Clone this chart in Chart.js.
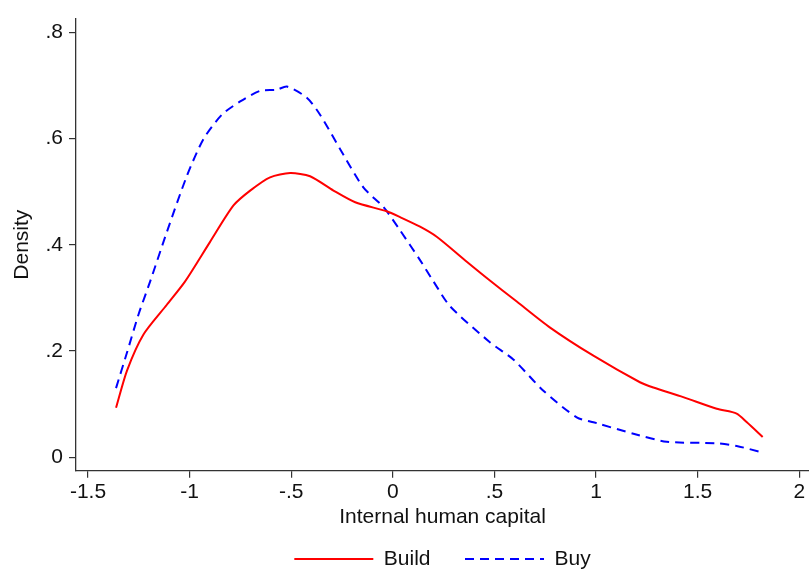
<!DOCTYPE html>
<html>
<head>
<meta charset="utf-8">
<script src="https://cdn.jsdelivr.net/npm/chart.js@4/dist/chart.umd.min.js"></script>
<style>
  html,body{margin:0;padding:0;background:#fff;}
  #wrap{width:809px;height:572px;}
</style>
</head>
<body>
<div id="wrap"><canvas id="chart" width="809" height="572"></canvas></div>
<script>
// DATA
const buildX=[-1.362,-1.308,-1.227,-1.112,-1.022,-0.900,-0.784,-0.702,-0.604,-0.505,-0.407,-0.292,-0.185,-0.030,0.036,0.134,0.216,0.364,0.470,0.610,0.774,0.987,1.216,1.282,1.429,1.594,1.692,1.741,1.820];
const buildY=[0.093,0.163,0.231,0.287,0.331,0.405,0.474,0.502,0.527,0.535,0.529,0.502,0.480,0.463,0.452,0.434,0.415,0.368,0.335,0.293,0.244,0.191,0.141,0.131,0.113,0.091,0.082,0.066,0.038];
const buyX=[-1.362,-1.308,-1.251,-1.194,-1.112,-1.013,-0.932,-0.841,-0.751,-0.653,-0.571,-0.521,-0.423,-0.358,-0.259,-0.145,-0.046,0.036,0.134,0.200,0.282,0.479,0.593,0.741,0.905,1.003,1.184,1.348,1.594,1.692,1.807];
const buyY=[0.130,0.197,0.269,0.331,0.424,0.530,0.599,0.645,0.670,0.690,0.692,0.698,0.677,0.645,0.580,0.508,0.471,0.427,0.371,0.331,0.284,0.216,0.184,0.125,0.075,0.064,0.044,0.029,0.026,0.021,0.010];
const xTicks=[-1.5,-1,-0.5,0,0.5,1,1.5,2];
const yTicks=[0,0.2,0.4,0.6,0.8];

const FONT="'Liberation Sans', Arial, sans-serif";
const AXIS="#333";
const pts=(xs,ys)=>xs.map((x,i)=>({x,y:ys[i]}));
// stata style labels: .5, -.5
const fmt=v=>v===0?"0":String(v).replace("0.",".");

// legend: keep the line style of each series
function legendLabels(chart){
  const items=Chart.defaults.plugins.legend.labels.generateLabels(chart);
  items.forEach(it=>{
    const ds=chart.data.datasets[it.datasetIndex];
    it.lineDash=ds.borderDash||[];
    it.strokeStyle=ds.borderColor;
    it.lineWidth=2;
  });
  return items;
}

new Chart(document.getElementById("chart"),{
  type:"scatter",
  data:{
    datasets:[
      {label:"Build",data:pts(buildX,buildY),showLine:true,borderColor:"#ff0000",backgroundColor:"#ff0000",
       borderWidth:2,pointRadius:0,tension:0.25},
      {label:"Buy",data:pts(buyX,buyY),showLine:true,borderColor:"#0000ff",backgroundColor:"#0000ff",
       borderWidth:2,borderDash:[9,6],pointRadius:0,tension:0.25}
    ]
  },
  options:{
    responsive:false,animation:false,
    layout:{padding:{top:15,right:0,bottom:0,left:0}},
    plugins:{
      tooltip:{enabled:false},
      legend:{
        position:"bottom",fullSize:false,maxHeight:58,
        labels:{usePointStyle:true,pointStyle:"line",pointStyleWidth:79,padding:34.5,
          generateLabels:legendLabels,
          color:"#111",font:{family:FONT,size:21}}
      }
    },
    scales:{
      x:{
        type:"linear",min:-1.559,max:2.048,
        afterBuildTicks:s=>{s.ticks=xTicks.map(v=>({value:v}));},
        afterFit:s=>{s.height=43.3;},
        ticks:{callback:v=>fmt(v),color:"#111",padding:2,font:{family:FONT,size:21}},
        grid:{drawOnChartArea:false,drawTicks:true,tickLength:7,color:AXIS,lineWidth:1.2},
        border:{display:true,color:AXIS,width:1.3},
        title:{display:true,text:"Internal human capital",color:"#111",
          font:{family:FONT,size:21},padding:{top:0,bottom:-15.6}}
      },
      y:{
        type:"linear",min:-0.0256,max:0.826,
        afterBuildTicks:s=>{s.ticks=yTicks.map(v=>({value:v}));},
        afterFit:s=>{s.width=76;},
        ticks:{callback:v=>fmt(v),color:"#111",padding:6,font:{family:FONT,size:21}},
        grid:{drawOnChartArea:false,drawTicks:true,tickLength:7,color:AXIS,lineWidth:1.2},
        border:{display:true,color:AXIS,width:1.3},
        title:{display:true,text:"Density",color:"#111",
          font:{family:FONT,size:21},padding:{top:9.4,bottom:0}}
      }
    }
  }
});
</script>
</body>
</html>
